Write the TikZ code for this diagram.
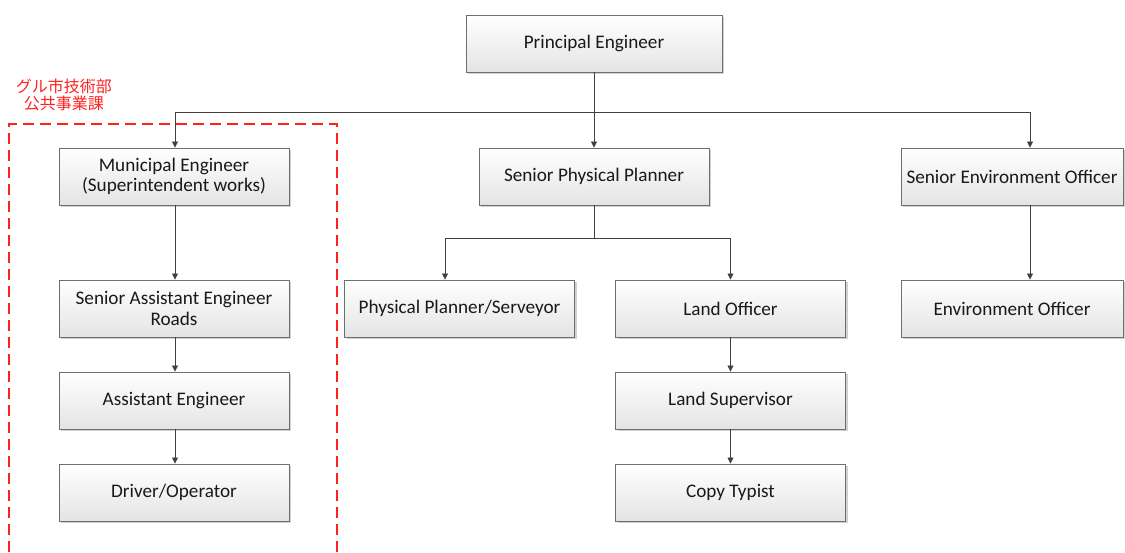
\documentclass[tikz,border=0pt]{standalone}
\usepackage{fontspec}
\setmainfont{Carlito}
\newfontfamily\cjk{Noto Sans CJK JP}
\usetikzlibrary{arrows.meta,calc,shadows}
\definecolor{linec}{HTML}{404040}
\definecolor{boxline}{HTML}{6E6E6E}
\definecolor{boxbot}{HTML}{E4E4E4}
\definecolor{redd}{HTML}{FF2020}
\tikzset{
  orgbox/.style={draw=boxline, line width=0.9pt, top color=white, bottom color=boxbot,
    minimum width=230pt, minimum height=57pt, inner sep=0pt, align=center,
    font=\fontsize{19.2}{20.5}\selectfont, text=black!90,
    drop shadow={shadow xshift=2pt, shadow yshift=-2pt, fill=black, opacity=0.18}},
  conn/.style={draw=linec, line width=0.8pt},
  arr/.style={conn, -{Triangle[length=6pt,width=6pt]}},
}
\begin{document}
\begin{tikzpicture}[x=1pt,y=-1pt]
\useasboundingbox (0,0) rectangle (1125,552);
% red dashed region
\draw[redd, line width=1.6pt, dash pattern=on 11pt off 6pt] (9,552) -- (9,124) -- (337,124) -- (337,552);
\node[text=redd, font=\cjk\fontsize{16}{17}\selectfont, align=center] (lbl) at (64,95) {グル市技術部\\公共事業課};
% boxes
\node[orgbox] (pe) at (594,43.5) [minimum width=256pt] {Principal Engineer};
\node[orgbox] (me) at (174,176.5) {Municipal Engineer\\(Superintendent works)};
\node[orgbox] (spp) at (594,176.5) {Senior Physical Planner};
\node[orgbox, minimum width=222pt] (seo) at (1012,176.5) {Senior Environment Officer};
\node[orgbox] (sae) at (174,308.5) {Senior Assistant Engineer\\Roads};
\node[orgbox] (pps) at (459.5,308.5) {Physical Planner/Serveyor};
\node[orgbox] (lo) at (730.5,308.5) {Land Officer};
\node[orgbox, minimum width=222pt] (eo) at (1012,308.5) {Environment Officer};
\node[orgbox] (ae) at (174,400.5) {Assistant Engineer};
\node[orgbox] (ls) at (730.5,400.5) {Land Supervisor};
\node[orgbox] (dro) at (174,492.5) {Driver/Operator};
\node[orgbox] (ct) at (730.5,492.5) {Copy Typist};
% connectors
\coordinate (j1) at ($(pe.south)+(0,40)$);
\draw[conn] (pe.south) -- (j1);
\draw[arr] (j1) -| ($(me.north)+(1,0)$);
\draw[arr] (j1) -- (spp.north);
\draw[arr] (j1) -| ($(seo.north)+(18,0)$);
\coordinate (j2) at ($(spp.south)+(0,33)$);
\draw[conn] (spp.south) -- (j2);
\draw[arr] (j2) -| ($(pps.north)+(-14.5,0)$);
\draw[arr] (j2) -| (lo.north);
\draw[arr] ($(me.south)+(1,0)$) -- ($(sae.north)+(1,0)$);
\draw[arr] ($(sae.south)+(1,0)$) -- ($(ae.north)+(1,0)$);
\draw[arr] ($(ae.south)+(1,0)$) -- ($(dro.north)+(1,0)$);
\draw[arr] (lo.south) -- (ls.north);
\draw[arr] (ls.south) -- (ct.north);
\draw[arr] ($(seo.south)+(18,0)$) -- ($(eo.north)+(18,0)$);
\end{tikzpicture}
\end{document}
